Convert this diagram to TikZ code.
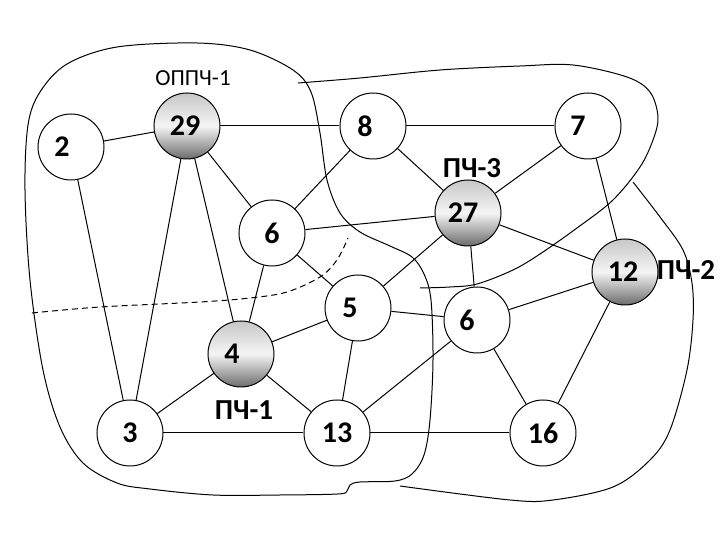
\documentclass[tikz,border=0pt]{standalone}
\usepackage{fontspec}
\setmainfont{Carlito}
\tikzset{
  nd/.style={circle, minimum size=33pt, inner sep=0pt, draw=black, fill=white, font=\fontsize{15}{17}\selectfont\bfseries},
  nds/.style={nd, top color=black!22, bottom color=black!58, middle color=black!4},
  sh/.style={execute at end node=\hspace*{#1}},
  lb/.style={font=\fontsize{14.5}{16}\selectfont\bfseries},
  lt/.style={font=\fontsize{11.5}{13}\selectfont},
  bd/.style={line width=0.5pt}
}

\begin{document}
\begin{tikzpicture}[x=0.5pt, y=-0.5pt, line width=0.5pt]
\useasboundingbox (0,0) rectangle (720,540);
% region borders
\draw[bd] plot[smooth cycle, tension=0.55] coordinates {(197,43) (250,50) (293,70) (311,92) (320,133) (327,180) (340,213) (360,232) (390,246) (412,257) (424,274) (431,300) (433,360) (430,420) (424,455) (412,474) (395,481) (360,482) (350,485) (347,491) (338,494) (280,495) (213,495) (150,489) (117,483) (83,463) (60,427) (43,370) (30,280) (25,190) (28,125) (40,92) (67,64) (117,47)};
\draw[bd] plot[smooth, tension=0.55] coordinates {(298,83) (360,78) (440,70) (520,66) (573,65) (627,77) (650,92) (658,117) (653,140) (640,167) (613,200) (577,228) (540,254) (513,270) (477,284) (450,287) (420,288)};
\draw[bd] plot[smooth, tension=0.55] coordinates {(633,182) (660,217) (683,250) (692,283) (693,320) (687,370) (670,430) (650,460) (613,487) (553,500) (510,500) (400,486)};
\draw[bd, dash pattern=on 3pt off 2pt] plot[smooth, tension=0.55] coordinates {(32,313) (100,307) (200,302) (250,298) (287,292) (320,277) (337,260) (348,238)};

% vertices
\node[nds, sh=2pt] (n29) at (187,126) {29};
\node[nd, sh=9pt] (n2) at (71,147) {2};
\node[nd, sh=8pt] (n8) at (373,126) {8};
\node[nd, sh=10pt] (n7) at (588,126) {7};
\node[nds, sh=5pt] (n27) at (468,213) {27};
\node[nd] (n6a) at (272,233) {6};
\node[nd, sh=8pt] (n5) at (358,308) {5};
\node[nd, sh=10pt] (n6b) at (477,320) {6};
\node[nds, sh=2pt] (n12) at (625,272) {12};
\node[nds, sh=9pt] (n4) at (241,354) {4};
\node[nd] (n3) at (130,433) {3};
\node[nd] (n13) at (337,433) {13};
\node[nd] (n16) at (543,433) {16};

% labels
\node[lt] (t0) at (193,78) {ОППЧ-1};
\node[lb] (t3) at (472,168) {ПЧ-3};
\node[lb] (t1) at (244,410) {ПЧ-1};
\node[lb] (t2) at (686,270) {ПЧ-2};

\path
(n29) edge (n2)
(n29) edge (n8)
(n29) edge (n6a)
(n29) edge (n3)
(n29) edge (n4)
(n2) edge (n3)
(n8) edge (n7)
(n8) edge (n6a)
(n8) edge (n27)
(n7) edge (n27)
(n7) edge (n12)
(n27) edge (n6a)
(n27) edge (n12)
(n27) edge (n5)
(n27) edge (n6b)
(n6a) edge (n5)
(n6a) edge (n4)
(n5) edge (n4)
(n5) edge (n13)
(n5) edge (n6b)
(n4) edge (n3)
(n4) edge (n13)
(n3) edge (n13)
(n13) edge (n6b)
(n13) edge (n16)
(n6b) edge (n12)
(n6b) edge (n16)
(n12) edge (n16);
\end{tikzpicture}
\end{document}
